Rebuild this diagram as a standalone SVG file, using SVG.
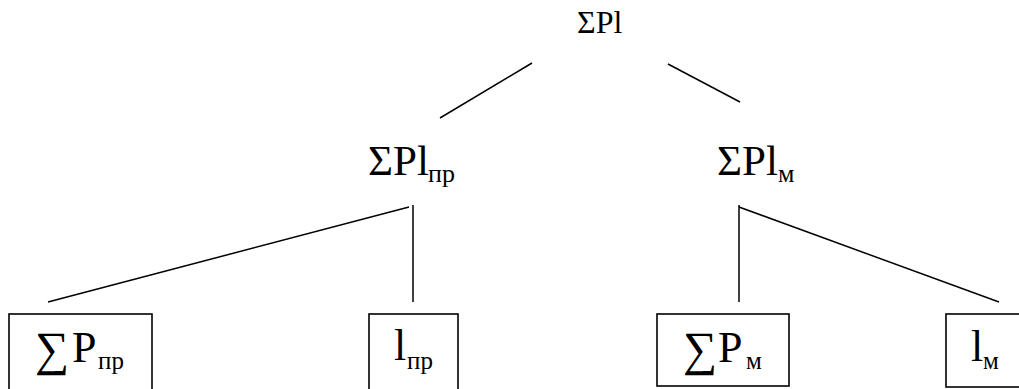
<svg xmlns="http://www.w3.org/2000/svg" width="1019" height="389" viewBox="0 0 1019 389" font-family="'Liberation Serif', 'Times New Roman', serif">
  <style>
    text { font-family: 'Liberation Serif', 'Times New Roman', serif; fill: #000; }
    .top { font-size: 32px; }
    .mid { font-size: 43px; }
    .sub { font-size: 26px; }
    .leaf { font-size: 44px; }
    .sum { font-size: 48px; }
    .lsub { font-size: 25px; }
    .edge { stroke: #000; stroke-width: 1.5; fill: none; }
    .box { stroke: #000; stroke-width: 1.6; fill: #fff; }
  </style>

  <!-- connectors -->
  <g id="connectors">
    <line class="edge" x1="532" y1="63" x2="440" y2="118"/>
    <line class="edge" x1="668" y1="64" x2="740" y2="102"/>
    <line class="edge" x1="409" y1="207" x2="48" y2="302"/>
    <line class="edge" x1="413" y1="205" x2="413" y2="302"/>
    <line class="edge" x1="739" y1="205" x2="739" y2="302"/>
    <line class="edge" x1="739" y1="207" x2="999" y2="302"/>
  </g>

  <!-- root -->
  <g id="root">
    <text class="top" x="577" y="33">ΣPl</text>
  </g>

  <!-- second level -->
  <g id="node-pr">
    <text class="mid" x="368" y="175">ΣPl</text>
    <text class="sub" x="428" y="182">пр</text>
  </g>
  <g id="node-m">
    <text class="mid" x="717" y="175">ΣPl</text>
    <text class="sub" x="778" y="182">м</text>
  </g>

  <!-- leaves -->
  <g id="leaf-sum-pr">
    <rect class="box" x="9" y="314" width="143" height="80"/>
    <text class="sum" x="35" y="365">∑</text>
    <text class="leaf" x="72" y="362">P</text>
    <text class="lsub" x="98" y="369">пр</text>
  </g>
  <g id="leaf-l-pr">
    <rect class="box" x="369" y="314" width="89" height="80"/>
    <text class="leaf" x="394" y="360">l</text>
    <text class="lsub" x="407" y="369">пр</text>
  </g>
  <g id="leaf-sum-m">
    <rect class="box" x="657" y="314" width="132" height="72"/>
    <text class="sum" x="683" y="365">∑</text>
    <text class="leaf" x="718" y="362">P</text>
    <text class="lsub" x="746" y="369">м</text>
  </g>
  <g id="leaf-l-m">
    <rect class="box" x="946" y="314" width="76" height="73"/>
    <text class="leaf" x="971" y="361">l</text>
    <text class="lsub" x="983" y="369">м</text>
  </g>
</svg>
